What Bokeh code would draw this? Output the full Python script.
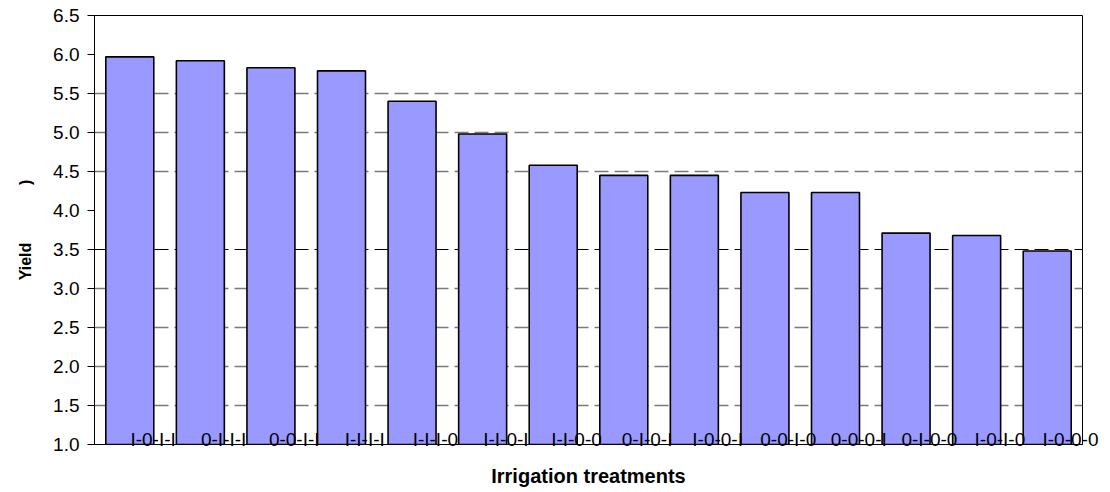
from bokeh.plotting import figure
from bokeh.models import (Range1d, FixedTicker, Grid, LinearAxis,
                          ColumnDataSource, PrintfTickFormatter)
from bokeh.embed import file_html
from bokeh.resources import INLINE

# ---- data ----
categories = ["I-0-I-I", "0-I-I-I", "0-0-I-I", "I-I-I-I", "I-I-I-0", "I-I-0-I", "I-I-0-0",
              "0-I-0-I", "I-0-0-I", "0-0-I-0", "0-0-0-I", "0-I-0-0", "I-0-I-0", "I-0-0-0"]
yields = [5.97, 5.92, 5.83, 5.79, 5.40, 4.98, 4.58, 4.45, 4.45, 4.23, 4.23, 3.71, 3.68, 3.48]
y_min, y_max = 1.0, 6.5
y_ticks = [1.0, 1.5, 2.0, 2.5, 3.0, 3.5, 4.0, 4.5, 5.0, 5.5, 6.0, 6.5]
grey_grid_ticks = [1.5, 2.0, 2.5, 3.0, 4.5, 5.0, 5.5]
dark_grid_ticks = [3.5]
x_title = "Irrigation treatments"
y_title = "Yield" + "\u00a0" * 13 + ")"
label_shift = 0.33   # category labels sit a little right of their bars

FONT = "Liberation Sans"

n = len(categories)
positions = [i + 0.5 for i in range(n)]   # slot centres of the categories

p = figure(x_range=Range1d(0, n),
           y_range=Range1d(y_min, y_max),
           width=1108, height=490,
           min_border_left=94, min_border_right=26, min_border_top=15, min_border_bottom=46,
           output_backend="svg", toolbar_location=None)

p.background_fill_color = "white"
p.border_fill_color = "white"
p.outline_line_color = "black"
p.outline_line_width = 1

src = ColumnDataSource(dict(x=positions, top=yields, cat=categories))
p.vbar(x="x", top="top", bottom=0, width=0.68, source=src,
       fill_color="#9999FF", line_color="black", line_width=1.6)

# grids
p.xgrid.visible = False
p.ygrid.ticker = FixedTicker(ticks=grey_grid_ticks)
p.ygrid.grid_line_color = "#7a7a7a"
p.ygrid.grid_line_dash = "14 6"
p.ygrid.grid_line_width = 1.3
g2 = Grid(dimension=1, ticker=FixedTicker(ticks=dark_grid_ticks),
          grid_line_color="black", grid_line_dash="14 6", grid_line_width=1)
p.add_layout(g2)

# y axis
ya = p.yaxis[0]
ya.ticker = FixedTicker(ticks=y_ticks)
ya.formatter = PrintfTickFormatter(format="%.1f")
ya.minor_tick_line_color = None
ya.major_tick_in = 0
ya.major_tick_out = 7
ya.major_tick_line_color = "black"
ya.axis_line_color = "black"
ya.major_label_standoff = 8
ya.major_label_text_font = FONT
ya.major_label_text_font_size = "19px"
ya.major_label_text_color = "black"
ya.axis_label = y_title
ya.axis_label_text_font = FONT
ya.axis_label_text_font_style = "bold"
ya.axis_label_text_font_size = "16px"
ya.axis_label_text_color = "black"
ya.axis_label_standoff = 16

# hide the default x axis; labels come from a shifted companion axis
p.xaxis[0].visible = False

p.extra_x_ranges = {"labels": Range1d(start=-label_shift, end=n - label_shift)}
la = LinearAxis(x_range_name="labels",
                ticker=FixedTicker(ticks=positions),
                major_label_overrides={pos: cat for pos, cat in zip(positions, categories)})
la.major_tick_in = 0
la.major_tick_out = 0
la.minor_tick_line_color = None
la.axis_line_color = "black"
la.major_label_standoff = -16
la.major_label_text_font = FONT
la.major_label_text_font_size = "19px"
la.major_label_text_color = "black"
la.axis_label = x_title
la.axis_label_text_font = FONT
la.axis_label_text_font_style = "bold"
la.axis_label_text_font_size = "20px"
la.axis_label_text_color = "black"
la.axis_label_standoff = 12
p.add_layout(la, "below")

open("out.html", "w").write(file_html(p, INLINE))
